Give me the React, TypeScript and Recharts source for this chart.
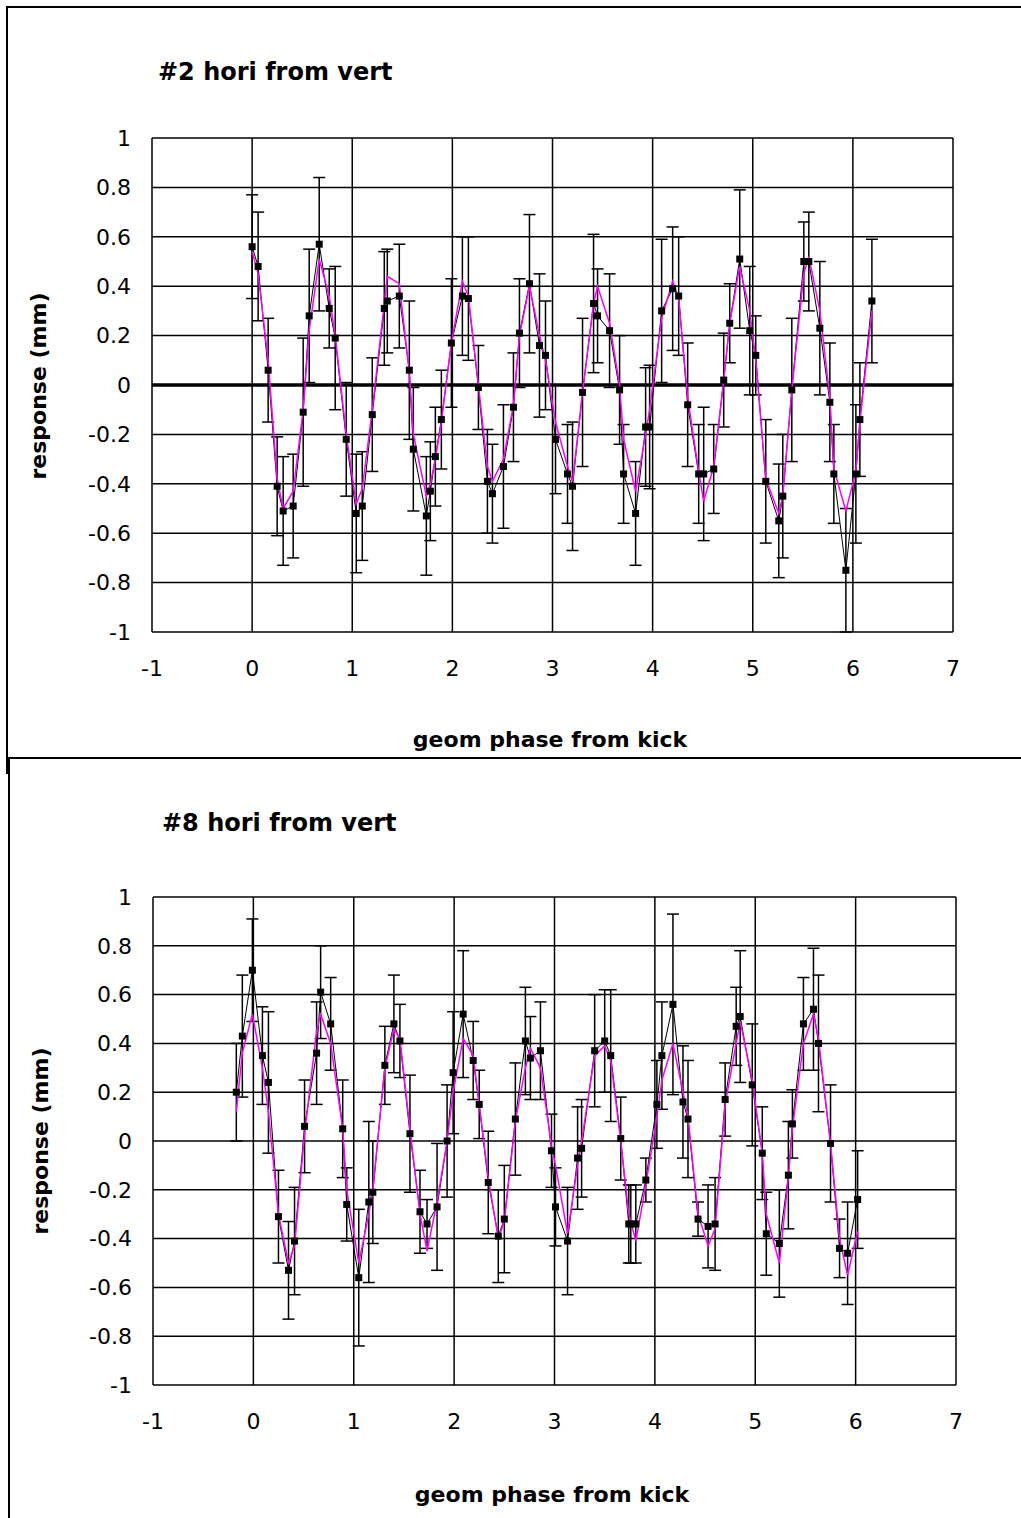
import React from 'react';
import { ComposedChart, Line, XAxis, YAxis, CartesianGrid, ErrorBar, ReferenceLine } from 'recharts';

// ---- Top chart: #2 hori from vert ----
const TOP_PHASE = [0.00, 0.06, 0.16, 0.25, 0.31, 0.41, 0.51, 0.57, 0.67, 0.77, 0.83, 0.94, 1.04, 1.10, 1.20, 1.32, 1.35, 1.47, 1.57, 1.61, 1.74, 1.78, 1.83, 1.89, 1.99, 2.10, 2.16, 2.26, 2.35, 2.40, 2.51, 2.61, 2.67, 2.77, 2.87, 2.93, 3.03, 3.15, 3.20, 3.30, 3.41, 3.45, 3.57, 3.67, 3.71, 3.83, 3.93, 3.97, 4.09, 4.20, 4.26, 4.35, 4.46, 4.51, 4.61, 4.71, 4.77, 4.87, 4.97, 5.03, 5.13, 5.26, 5.30, 5.39, 5.51, 5.56, 5.67, 5.77, 5.81, 5.93, 6.03, 6.07, 6.19];
const TOP_VALUE = [0.56, 0.48, 0.06, -0.41, -0.51, -0.49, -0.11, 0.28, 0.57, 0.31, 0.19, -0.22, -0.52, -0.49, -0.12, 0.31, 0.34, 0.36, 0.06, -0.26, -0.53, -0.43, -0.29, -0.14, 0.17, 0.36, 0.35, -0.01, -0.39, -0.44, -0.33, -0.09, 0.21, 0.41, 0.16, 0.12, -0.22, -0.36, -0.41, -0.03, 0.33, 0.28, 0.22, -0.02, -0.36, -0.52, -0.17, -0.17, 0.30, 0.39, 0.36, -0.08, -0.36, -0.36, -0.34, 0.02, 0.25, 0.51, 0.22, 0.12, -0.39, -0.55, -0.45, -0.02, 0.50, 0.50, 0.23, -0.07, -0.36, -0.75, -0.36, -0.14, 0.34];
const TOP_ERR = [0.21, 0.22, 0.21, 0.20, 0.22, 0.21, 0.30, 0.27, 0.27, 0.16, 0.29, 0.23, 0.24, 0.22, 0.23, 0.23, 0.21, 0.21, 0.28, 0.25, 0.24, 0.20, 0.20, 0.20, 0.26, 0.24, 0.25, 0.17, 0.21, 0.20, 0.25, 0.22, 0.22, 0.28, 0.29, 0.22, 0.22, 0.20, 0.26, 0.30, 0.28, 0.19, 0.23, 0.22, 0.20, 0.21, 0.24, 0.25, 0.29, 0.25, 0.24, 0.25, 0.20, 0.27, 0.18, 0.19, 0.16, 0.28, 0.26, 0.16, 0.25, 0.23, 0.25, 0.29, 0.16, 0.20, 0.27, 0.24, 0.20, 0.25, 0.28, 0.23, 0.25];
const TOP_FIT = [0.54, 0.45, 0.10, -0.38, -0.50, -0.43, -0.10, 0.22, 0.51, 0.36, 0.20, -0.20, -0.48, -0.42, -0.10, 0.33, 0.44, 0.41, 0.05, -0.20, -0.45, -0.40, -0.30, -0.15, 0.17, 0.42, 0.36, 0.00, -0.33, -0.39, -0.30, -0.08, 0.20, 0.40, 0.20, 0.10, -0.15, -0.33, -0.39, -0.03, 0.33, 0.40, 0.25, 0.00, -0.22, -0.43, -0.20, -0.10, 0.27, 0.42, 0.35, -0.05, -0.35, -0.47, -0.33, 0.02, 0.25, 0.48, 0.30, 0.10, -0.38, -0.52, -0.45, -0.02, 0.45, 0.52, 0.30, -0.05, -0.34, -0.51, -0.35, -0.15, 0.30];

// ---- Bottom chart: #8 hori from vert ----
const BOT_PHASE = [-0.17, -0.11, -0.01, 0.09, 0.15, 0.25, 0.35, 0.41, 0.51, 0.63, 0.67, 0.77, 0.89, 0.93, 1.05, 1.15, 1.19, 1.31, 1.40, 1.46, 1.56, 1.66, 1.73, 1.83, 1.93, 1.99, 2.09, 2.19, 2.25, 2.34, 2.44, 2.50, 2.61, 2.71, 2.76, 2.86, 2.97, 3.01, 3.13, 3.23, 3.27, 3.40, 3.50, 3.56, 3.66, 3.74, 3.76, 3.81, 3.91, 4.02, 4.07, 4.18, 4.28, 4.33, 4.43, 4.53, 4.60, 4.70, 4.81, 4.85, 4.97, 5.07, 5.11, 5.24, 5.33, 5.37, 5.48, 5.58, 5.63, 5.75, 5.84, 5.92, 6.02];
const BOT_VALUE = [0.20, 0.43, 0.70, 0.35, 0.24, -0.31, -0.53, -0.41, 0.06, 0.36, 0.61, 0.48, 0.05, -0.26, -0.56, -0.25, -0.21, 0.31, 0.48, 0.41, 0.03, -0.29, -0.34, -0.27, 0.00, 0.28, 0.52, 0.33, 0.15, -0.17, -0.39, -0.32, 0.09, 0.41, 0.34, 0.37, -0.04, -0.27, -0.41, -0.07, -0.03, 0.37, 0.41, 0.35, 0.01, -0.34, -0.34, -0.34, -0.16, 0.15, 0.35, 0.56, 0.16, 0.09, -0.32, -0.35, -0.34, 0.17, 0.47, 0.51, 0.23, -0.05, -0.38, -0.42, -0.14, 0.07, 0.48, 0.54, 0.40, -0.01, -0.44, -0.46, -0.24];
const BOT_ERR = [0.20, 0.25, 0.21, 0.20, 0.29, 0.19, 0.20, 0.22, 0.19, 0.21, 0.19, 0.19, 0.20, 0.15, 0.28, 0.33, 0.21, 0.16, 0.20, 0.15, 0.24, 0.17, 0.10, 0.26, 0.23, 0.25, 0.26, 0.16, 0.14, 0.21, 0.19, 0.22, 0.23, 0.22, 0.17, 0.20, 0.15, 0.16, 0.22, 0.21, 0.20, 0.23, 0.21, 0.27, 0.17, 0.16, 0.16, 0.16, 0.09, 0.18, 0.22, 0.37, 0.23, 0.24, 0.07, 0.17, 0.19, 0.15, 0.16, 0.27, 0.25, 0.19, 0.17, 0.22, 0.22, 0.14, 0.19, 0.25, 0.28, 0.24, 0.12, 0.21, 0.20];
const BOT_FIT = [0.12, 0.36, 0.52, 0.30, 0.12, -0.30, -0.50, -0.43, 0.03, 0.45, 0.52, 0.40, 0.05, -0.20, -0.50, -0.30, -0.20, 0.30, 0.46, 0.42, 0.05, -0.30, -0.45, -0.25, 0.00, 0.20, 0.42, 0.35, 0.15, -0.15, -0.40, -0.33, 0.08, 0.30, 0.38, 0.30, -0.02, -0.10, -0.38, -0.10, 0.00, 0.35, 0.39, 0.33, 0.00, -0.30, -0.33, -0.41, -0.18, 0.10, 0.25, 0.40, 0.20, 0.10, -0.30, -0.43, -0.36, 0.15, 0.40, 0.49, 0.25, -0.05, -0.30, -0.50, -0.15, 0.05, 0.40, 0.52, 0.42, -0.01, -0.40, -0.55, -0.37];

const X_TICKS = [-1, 0, 1, 2, 3, 4, 5, 6, 7];
const Y_TICKS = [-1, -0.8, -0.6, -0.4, -0.2, 0, 0.2, 0.4, 0.6, 0.8, 1];

const FONT = '"DejaVu Sans", "Liberation Sans", Arial, sans-serif';

const build = (px: number[], v: number[], e: number[], f: number[]) =>
  px.map((x, i) => ({ x, y: v[i], err: e[i], fit: f[i] }));

const topData = build(TOP_PHASE, TOP_VALUE, TOP_ERR, TOP_FIT);
const botData = build(BOT_PHASE, BOT_VALUE, BOT_ERR, BOT_FIT);

const SquareDot = (p: any) => {
  if (p.cx == null || p.cy == null) return <g key={p.index} />;
  return <rect key={p.index} x={p.cx - 3.5} y={p.cy - 3.5} width={7} height={7} fill="#000" />;
};

const fmt = (v: number) => String(Math.round(v * 10) / 10);

type PanelProps = {
  data: any[];
  margin: { top: number; right: number; bottom: number; left: number };
  zeroLine?: boolean;
};

const Panel = ({ data, margin, zeroLine }: PanelProps) => (
  <ComposedChart width={1000} height={740} data={data} margin={margin}>
    <CartesianGrid stroke="#000" strokeWidth={1.5} />
    <XAxis
      type="number"
      dataKey="x"
      domain={[-1, 7]}
      ticks={X_TICKS}
      axisLine={false}
      tickLine={false}
      tickSize={0}
      tickMargin={28}
      height={40}
      tick={{ fill: '#000', fontSize: 22, fontFamily: FONT }}
      interval={0}
    />
    <YAxis
      type="number"
      domain={[-1, 1]}
      ticks={Y_TICKS}
      tickFormatter={fmt}
      axisLine={false}
      tickLine={false}
      tickSize={0}
      tickMargin={21}
      width={60}
      tick={{ fill: '#000', fontSize: 22, fontFamily: FONT }}
      interval={0}
    />
    {zeroLine ? <ReferenceLine y={0} stroke="#000" strokeWidth={3.5} /> : null}
    <Line
      type="linear"
      dataKey="y"
      stroke="#000"
      strokeWidth={1}
      dot={false}
      activeDot={false}
      isAnimationActive={false}
    >
      <ErrorBar dataKey="err" width={6} stroke="#000" strokeWidth={1.5} direction="y" />
    </Line>
    <Line
      type="linear"
      dataKey="fit"
      stroke="#ff00ff"
      strokeWidth={1.5}
      dot={false}
      activeDot={false}
      isAnimationActive={false}
    />
    <Line
      type="linear"
      dataKey="y"
      stroke="none"
      dot={SquareDot}
      activeDot={false}
      isAnimationActive={false}
      legendType="none"
    />
  </ComposedChart>
);

export default function App() {
  const boldText = { fontFamily: FONT, fontWeight: 'bold' as const, fill: '#000' };
  return (
    <div style={{ position: 'absolute', left: 0, top: 0, width: 1021, height: 1518, overflow: 'hidden', background: '#fff' }}>
      {/* frame of the top chart */}
      <div style={{ position: 'absolute', left: 6, top: 6, width: 1100, height: 764, borderTop: '2px solid #000', borderLeft: '2px solid #000', borderBottom: '2px solid #000' }} />
      <div style={{ position: 'absolute', left: 0, top: 0 }}>
        <Panel data={topData} margin={{ top: 138, right: 47, bottom: 68, left: 92 }} zeroLine />
      </div>
      {/* frame of the bottom chart */}
      <div style={{ position: 'absolute', left: 8, top: 757, width: 1100, height: 900, borderTop: '2px solid #000', borderLeft: '2px solid #000', background: '#fff' }} />
      <div style={{ position: 'absolute', left: 0, top: 759 }}>
        <Panel data={botData} margin={{ top: 138, right: 44, bottom: 74, left: 93 }} />
      </div>
      <svg width={1021} height={1518} style={{ position: 'absolute', left: 0, top: 0, pointerEvents: 'none' }}>
        <text x={158} y={80} fontSize={24} {...boldText}>#2 hori from vert</text>
        <text x={550} y={747} fontSize={22} textAnchor="middle" {...boldText}>geom phase from kick</text>
        <text transform="translate(46,386) rotate(-90)" fontSize={22} textAnchor="middle" {...boldText}>response (mm)</text>

        <text x={162} y={831} fontSize={24} {...boldText}>#8 hori from vert</text>
        <text x={552} y={1502} fontSize={22} textAnchor="middle" {...boldText}>geom phase from kick</text>
        <text transform="translate(48,1141) rotate(-90)" fontSize={22} textAnchor="middle" {...boldText}>response (mm)</text>
      </svg>
    </div>
  );
}
